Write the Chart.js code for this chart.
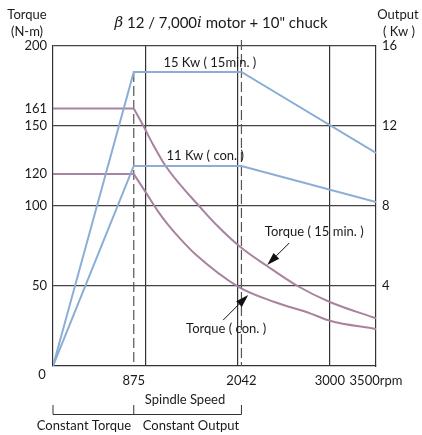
<!DOCTYPE html>
<html>
<head>
<meta charset="utf-8">
<script src="https://cdn.jsdelivr.net/npm/chart.js@4.4.1/dist/chart.umd.min.js"></script>
<style>
  body { margin: 0; background: #fff; }
</style>
</head>
<body>
<canvas id="chart" width="422" height="435"></canvas>
<script>
// speed axis (rpm)
const rpmLabels = [875, 2042, 3000, 3500];
const rpmGrid = [1000, 2000, 3000];
const rpmDashed = [875, 2042];

// left axis (N-m) and right axis (Kw)
const torqueTicks = [0, 50, 100, 120, 150, 161, 200];
const torqueGrid = [50, 100, 150, 200];
const outputTicks = [4, 8, 12, 16];

// output curves (Kw)
const rpmOut15 = [0, 875, 2042, 3500];
const kwOut15 = [0, 14.7, 14.7, 10.66];
const rpmOutCon = [0, 875, 2042, 3500];
const kwOutCon = [0, 10.0, 10.0, 8.2];

// torque curves (N-m)
const rpmTorque15 = [0, 875, 980, 1088, 1220, 1630, 1775, 2030, 2320, 2650, 3000, 3500];
const nmTorque15 = [161, 161, 150, 138, 125, 97, 88, 74.4, 62.5, 50, 40, 29.8];
const rpmTorqueCon = [0, 875, 1000, 1140, 1250, 1377, 1540, 2010, 2400, 2787, 3000, 3500];
const nmTorqueCon = [120, 120, 109, 96.5, 88, 79.6, 70, 49.5, 40, 32.9, 28.3, 23.1];

const BLUE = "#8aaed6";
const PINK = "#a9829f";
const INK = "#333";
const FONT = "Lato, 'Noto Sans', sans-serif";

function pts(xs, ys, from, to) {
    return xs.slice(from, to).map((x, i) => ({ x: x, y: ys[from + i] }));
}

// notes placed in data units (rpm, N-m)
const notes = [
    { text: "15 Kw ( 15min. )", rpm: 1700, nm: 189.6 },
    { text: "11 Kw ( con. )", rpm: 1650, nm: 131.4 },
    { text: "Torque ( 15 min. )", rpm: 2831, nm: 83.8 },
    { text: "Torque ( con. )", rpm: 1876, nm: 23.1 }
];
const arrows = [
    { from: [2560, 76.9], to: [2321, 63.1] },
    { from: [1844, 28.7], to: [2115, 44.4] }
];

const extras = {
    id: "extras",
    beforeDatasetsDraw(chart) {
        const ctx = chart.ctx;
        const x = chart.scales.x, y = chart.scales.y;
        ctx.save();
        ctx.strokeStyle = "#555";
        ctx.lineWidth = 1.2;
        ctx.setLineDash([10, 4]);
        // 875 dashed starts at the output peak, 2042 runs slightly past the frame
        const top875 = chart.scales.y1.getPixelForValue(kwOut15[1]);
        ctx.beginPath();
        ctx.moveTo(x.getPixelForValue(rpmDashed[0]), top875);
        ctx.lineTo(x.getPixelForValue(rpmDashed[0]), y.bottom);
        ctx.moveTo(x.getPixelForValue(rpmDashed[1]), y.top - 6);
        ctx.lineTo(x.getPixelForValue(rpmDashed[1]), y.bottom);
        ctx.stroke();
        ctx.restore();
    },
    afterDraw(chart) {
        const ctx = chart.ctx;
        const x = chart.scales.x, y = chart.scales.y;
        ctx.save();
        ctx.fillStyle = "#1a1a1a";
        ctx.textAlign = "center";
        ctx.textBaseline = "middle";
        ctx.font = "13px " + FONT;

        ctx.fillText("Torque", 27, 15);
        ctx.fillText("(N-m)", 27, 32);
        ctx.fillText("Output", 398, 15);
        ctx.fillText("( Kw )", 399, 32);
        ctx.fillText("0", 42, 375);
        ctx.fillText("Spindle Speed", 185, 400);
        ctx.fillText("Constant Torque", 84, 426);
        ctx.fillText("Constant Output", 191, 426);

        notes.forEach(n => {
            ctx.fillText(n.text, x.getPixelForValue(n.rpm), y.getPixelForValue(n.nm));
        });

        // title with italic beta and i
        const parts = [
            ["italic 15px 'DejaVu Serif', serif", "\u03b2"],
            ["15px " + FONT, " 12 / 7,000"],
            ["italic 15px 'DejaVu Serif', serif", "i"],
            ["15px " + FONT, " motor + 10\" chuck"]
        ];
        let total = 0;
        parts.forEach(p => { ctx.font = p[0]; total += ctx.measureText(p[1]).width; });
        let tx = 221 - total / 2;
        ctx.textAlign = "left";
        parts.forEach(p => {
            ctx.font = p[0];
            ctx.fillText(p[1], tx, 23);
            tx += ctx.measureText(p[1]).width;
        });

        // bracket under the speed axis
        const bx = [0, 875, 2042].map(v => x.getPixelForValue(v));
        ctx.strokeStyle = INK;
        ctx.lineWidth = 1;
        ctx.beginPath();
        ctx.moveTo(bx[0], 414.5); ctx.lineTo(bx[2], 414.5);
        bx.forEach(px => { ctx.moveTo(px, 405); ctx.lineTo(px, 414.5); });
        ctx.stroke();

        // arrows
        ctx.fillStyle = "#111";
        ctx.strokeStyle = "#111";
        arrows.forEach(a => {
            const x0 = x.getPixelForValue(a.from[0]), y0 = y.getPixelForValue(a.from[1]);
            const x1 = x.getPixelForValue(a.to[0]), y1 = y.getPixelForValue(a.to[1]);
            const ang = Math.atan2(y1 - y0, x1 - x0);
            const len = 13, half = 4;
            const bxp = x1 - len * Math.cos(ang), byp = y1 - len * Math.sin(ang);
            ctx.beginPath();
            ctx.moveTo(x0, y0); ctx.lineTo(bxp, byp);
            ctx.stroke();
            ctx.beginPath();
            ctx.moveTo(x1, y1);
            ctx.lineTo(bxp + half * Math.sin(ang), byp - half * Math.cos(ang));
            ctx.lineTo(bxp - half * Math.sin(ang), byp + half * Math.cos(ang));
            ctx.closePath();
            ctx.fill();
        });
        ctx.restore();
    }
};

function line(data, color, axis, smooth) {
    return {
        data: data,
        yAxisID: axis,
        borderColor: color,
        borderWidth: 2,
        pointRadius: 0,
        fill: false,
        tension: smooth ? 0.4 : 0,
        cubicInterpolationMode: smooth ? "monotone" : "default"
    };
}

new Chart(document.getElementById("chart"), {
    type: "line",
    data: {
        datasets: [
            line(pts(rpmOut15, kwOut15, 0), BLUE, "y1", false),
            line(pts(rpmOutCon, kwOutCon, 0), BLUE, "y1", false),
            line(pts(rpmTorque15, nmTorque15, 0, 2), PINK, "y", false),
            line(pts(rpmTorque15, nmTorque15, 1), PINK, "y", true),
            line(pts(rpmTorqueCon, nmTorqueCon, 0, 2), PINK, "y", false),
            line(pts(rpmTorqueCon, nmTorqueCon, 1), PINK, "y", true)
        ]
    },
    options: {
        responsive: false,
        animation: false,
        layout: { padding: { top: 46, left: 0, right: 0, bottom: 0 } },
        plugins: { legend: { display: false }, tooltip: { enabled: false } },
        scales: {
            x: {
                type: "linear",
                min: 0,
                max: 3500,
                afterBuildTicks: s => {
                    s.ticks = [0, 875, 1000, 2000, 2042, 3000, 3500].map(v => ({ value: v }));
                },
                afterFit: s => { s.height = 69; },
                ticks: {
                    autoSkip: false,
                    maxRotation: 0,
                    padding: 7,
                    color: "#1a1a1a",
                    font: { family: FONT, size: 13 },
                    callback: v => v === 3500 ? "3500rpm" : (rpmLabels.includes(v) ? String(v) : "")
                },
                grid: {
                    drawTicks: false,
                    lineWidth: 1.2,
                    color: c => rpmGrid.includes(c.tick && c.tick.value) ? INK : "rgba(0,0,0,0)"
                },
                border: { color: INK, width: 1.2 }
            },
            y: {
                position: "left",
                min: 0,
                max: 200,
                afterBuildTicks: s => { s.ticks = torqueTicks.map(v => ({ value: v })); },
                afterFit: s => { s.width = 53; },
                ticks: {
                    padding: 6,
                    color: "#1a1a1a",
                    font: { family: FONT, size: 13 },
                    callback: v => v === 0 ? "" : String(v)
                },
                grid: {
                    drawTicks: false,
                    lineWidth: 1.2,
                    color: c => torqueGrid.includes(c.tick && c.tick.value) ? "#444" : "rgba(0,0,0,0)"
                },
                border: { color: INK, width: 1.2 }
            },
            y1: {
                position: "right",
                min: 0,
                max: 16,
                afterBuildTicks: s => { s.ticks = outputTicks.map(v => ({ value: v })); },
                afterFit: s => { s.width = 46; },
                ticks: {
                    padding: 6,
                    color: "#1a1a1a",
                    font: { family: FONT, size: 13 }
                },
                grid: { drawTicks: false, drawOnChartArea: false },
                border: { color: INK, width: 1.2 }
            }
        }
    },
    plugins: [extras]
});
</script>
</body>
</html>
